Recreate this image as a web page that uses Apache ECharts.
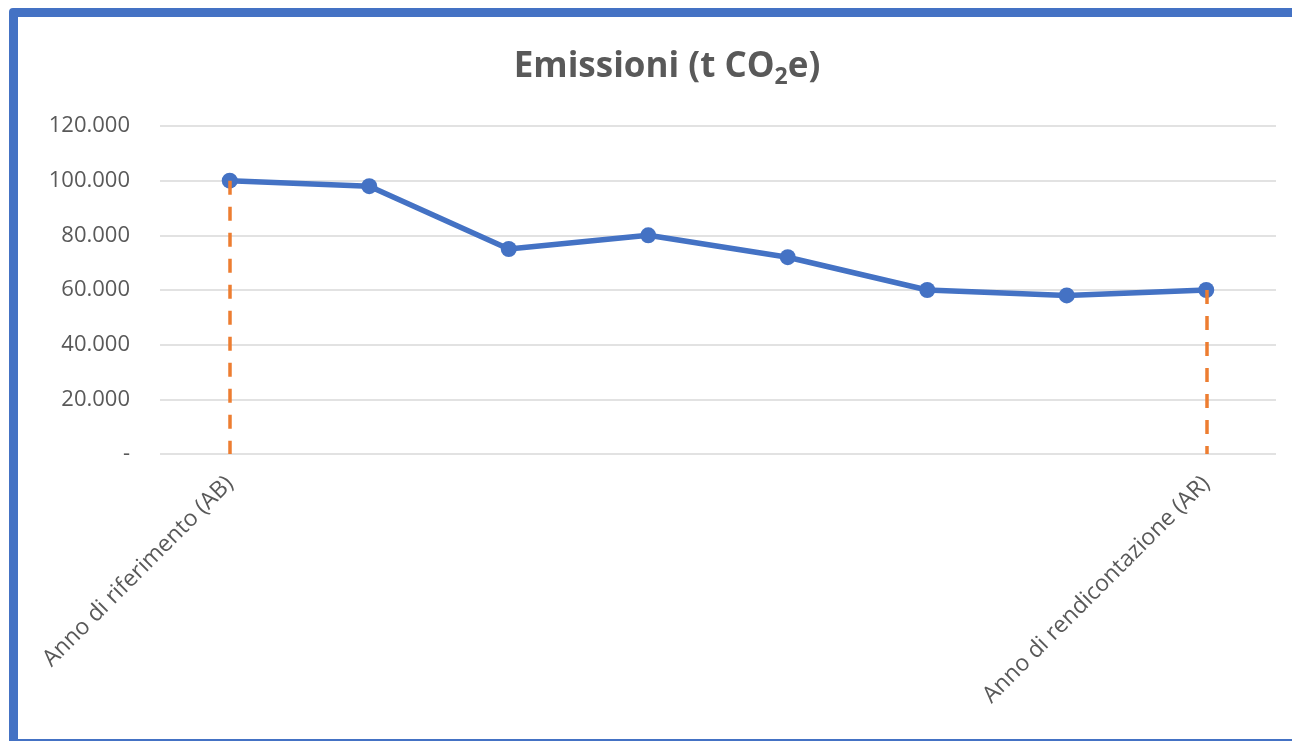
<!DOCTYPE html>
<html>
<head>
<meta charset="utf-8">
<script src="https://cdn.jsdelivr.net/npm/echarts@6/dist/echarts.min.js"></script>
<style>
  html, body { margin: 0; padding: 0; background: #fff; overflow: hidden; }
  #frame {
    position: absolute; left: 9px; top: 8px; width: 1400px; height: 722px;
    border: 9px solid #4472c4; border-radius: 4px; background: #fff;
  }
  #chart { position: absolute; left: 0; top: 0; width: 1292px; height: 741px; }
</style>
</head>
<body>
<div id="frame"></div>
<div id="chart"></div>
<script>
// categories: only the first and last carry a label
const categories = [
  'Anno di riferimento (AB)', '', '', '', '', '', '', 'Anno di rendicontazione (AR)'
];
const emissions = [100000, 98000, 75000, 80000, 72000, 60000, 58000, 60000];
const yTicks = [0, 20000, 40000, 60000, 80000, 100000, 120000];

const textGrey = '#595959';
const font = '"Open Sans", "Noto Sans", sans-serif';
const fmt = (v) => v === 0 ? '-' : v.toLocaleString('de-DE');

const chart = echarts.init(document.getElementById('chart'), null, { renderer: 'canvas' });

const last = emissions.length - 1;

chart.setOption({
  animation: false,
  backgroundColor: 'transparent',
  textStyle: { fontFamily: font },
  title: {
    text: '{a|Emissioni (t CO}{s|2}{a|e)}',
    left: 662,
    textAlign: 'center',
    top: 40,
    textStyle: {
      rich: {
        a: { fontSize: 35, fontWeight: 'bold', color: textGrey, lineHeight: 44, fontFamily: font },
        s: { fontSize: 23, fontWeight: 'bold', color: textGrey, lineHeight: 28,
             verticalAlign: 'bottom', fontFamily: font }
      }
    }
  },
  grid: { left: 160, right: 16, top: 126, bottom: 287, containLabel: false },
  xAxis: {
    type: 'category',
    data: categories,
    boundaryGap: true,
    axisLine: { show: false },
    axisTick: { show: false },
    axisLabel: {
      interval: 0, rotate: 45, margin: 26,
      fontSize: 23, color: textGrey
    }
  },
  yAxis: {
    type: 'value',
    min: yTicks[0],
    max: yTicks[yTicks.length - 1],
    interval: yTicks[1] - yTicks[0],
    axisLine: { show: false },
    axisTick: { show: false },
    splitLine: { lineStyle: { color: '#d9d9d9', width: 1.5 } },
    axisLabel: { fontSize: 22, color: textGrey, margin: 30, formatter: fmt }
  },
  series: [
    {
      type: 'line',
      data: emissions,
      symbol: 'circle',
      symbolSize: 16,
      lineStyle: { color: '#4472c4', width: 5.5 },
      itemStyle: { color: '#4472c4' },
      z: 3,
      markLine: {
        silent: true,
        symbol: 'none',
        label: { show: false },
        lineStyle: { color: '#ed7d31', width: 3.5, type: [14, 12] },
        data: [
          [{ coord: [0, emissions[0]] }, { coord: [0, 0] }],
          [{ coord: [last, emissions[last]] }, { coord: [last, 0] }]
        ]
      }
    }
  ]
});
</script>
</body>
</html>
